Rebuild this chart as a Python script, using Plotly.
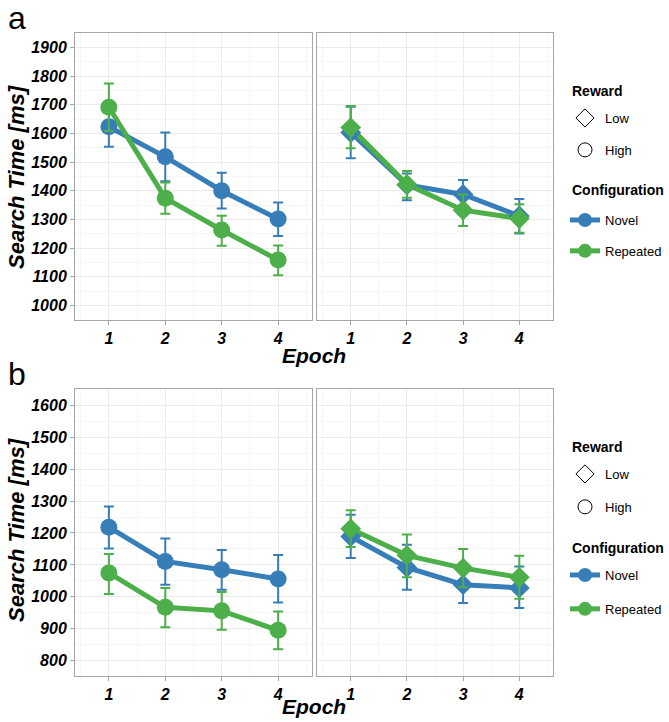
import plotly.graph_objects as go

epochs = [1, 2, 3, 4]
epoch_labels = ["1", "2", "3", "4"]

# Panel a, High reward (circles, left facet)
a_high_novel = [1623, 1518, 1400, 1301]
a_high_novel_hi = [1695, 1603, 1463, 1359]
a_high_novel_lo = [1553, 1433, 1338, 1242]
a_high_rep = [1691, 1374, 1263, 1158]
a_high_rep_hi = [1774, 1429, 1313, 1209]
a_high_rep_lo = [1608, 1320, 1208, 1105]
# Panel a, Low reward (diamonds, right facet)
a_low_novel = [1603, 1420, 1387, 1312]
a_low_novel_hi = [1693, 1460, 1437, 1371]
a_low_novel_lo = [1513, 1367, 1337, 1251]
a_low_rep = [1620, 1422, 1332, 1303]
a_low_rep_hi = [1695, 1469, 1387, 1353]
a_low_rep_lo = [1548, 1375, 1277, 1253]
# Panel b, High reward
b_high_novel = [1218, 1111, 1085, 1056]
b_high_novel_hi = [1283, 1183, 1147, 1131]
b_high_novel_lo = [1151, 1038, 1022, 982]
b_high_rep = [1075, 967, 956, 895]
b_high_rep_hi = [1134, 1028, 1015, 954]
b_high_rep_lo = [1009, 905, 897, 836]
# Panel b, Low reward
b_low_novel = [1189, 1092, 1038, 1028]
b_low_novel_hi = [1257, 1163, 1095, 1095]
b_low_novel_lo = [1122, 1022, 981, 965]
b_low_rep = [1213, 1130, 1090, 1061]
b_low_rep_hi = [1271, 1195, 1150, 1129]
b_low_rep_lo = [1156, 1061, 1030, 994]

a_yticks = [1000, 1100, 1200, 1300, 1400, 1500, 1600, 1700, 1800, 1900]
b_yticks = [800, 900, 1000, 1100, 1200, 1300, 1400, 1500, 1600]

BLUE = "#377EB8"
GREEN = "#4DAF4A"
FONT = "Liberation Sans"
W, H = 669, 722

fig = go.Figure()

def add_line(xa, ya, y, color):
    fig.add_trace(go.Scatter(x=epochs, y=y, mode="lines", line=dict(color=color, width=5),
                             xaxis=xa, yaxis=ya, showlegend=False, hoverinfo="skip"))

def add_points(xa, ya, y, hi, lo, color, symbol, size):
    fig.add_trace(go.Scatter(
        x=epochs, y=y, mode="markers",
        marker=dict(color=color, symbol=symbol, size=size, line=dict(width=0)),
        error_y=dict(type="data", symmetric=False,
                     array=[h - v for h, v in zip(hi, y)],
                     arrayminus=[v - l for l, v in zip(lo, y)],
                     color=color, thickness=2, width=5),
        xaxis=xa, yaxis=ya, showlegend=False))

panels = [
    ("x", "y", a_high_novel, a_high_novel_hi, a_high_novel_lo, a_high_rep, a_high_rep_hi, a_high_rep_lo, "circle", 17),
    ("x2", "y2", a_low_novel, a_low_novel_hi, a_low_novel_lo, a_low_rep, a_low_rep_hi, a_low_rep_lo, "diamond", 16),
    ("x3", "y3", b_high_novel, b_high_novel_hi, b_high_novel_lo, b_high_rep, b_high_rep_hi, b_high_rep_lo, "circle", 17),
    ("x4", "y4", b_low_novel, b_low_novel_hi, b_low_novel_lo, b_low_rep, b_low_rep_hi, b_low_rep_lo, "diamond", 16),
]
for xa, ya, nv, nh, nl, rv, rh, rl, sym, sz in panels:
    add_line(xa, ya, nv, BLUE)
    add_line(xa, ya, rv, GREEN)
for xa, ya, nv, nh, nl, rv, rh, rl, sym, sz in panels:
    add_points(xa, ya, nv, nh, nl, BLUE, sym, sz)
    add_points(xa, ya, rv, rh, rl, GREEN, sym, sz)

# legend entries
for leg in ["legend", "legend3"]:
    fig.add_trace(go.Scatter(x=[None], y=[None], mode="markers", name="Low",
                             marker=dict(symbol="diamond-open", color="black", size=14, line=dict(width=1)),
                             legend=leg, legendgroup=leg + "low"))
    fig.add_trace(go.Scatter(x=[None], y=[None], mode="markers", name="High",
                             marker=dict(symbol="circle-open", color="black", size=14, line=dict(width=1)),
                             legend=leg, legendgroup=leg + "high"))
for leg in ["legend2", "legend4"]:
    fig.add_trace(go.Scatter(x=[None], y=[None], mode="lines+markers", name="Novel",
                             line=dict(color=BLUE, width=5), marker=dict(color=BLUE, size=14),
                             legend=leg, legendgroup=leg + "nov"))
    fig.add_trace(go.Scatter(x=[None], y=[None], mode="lines+markers", name="Repeated",
                             line=dict(color=GREEN, width=5), marker=dict(color=GREEN, size=14),
                             legend=leg, legendgroup=leg + "rep"))

tickfont = dict(family=FONT, size=16, weight="bold", style="italic", color="black")
grid = "#ebebeb"
minor_grid = "#f6f6f6"
border = "#a6a6a6"

def xax(domain):
    return dict(domain=domain, range=[0.4, 4.6], tickvals=epochs, ticktext=epoch_labels,
                showgrid=True, gridcolor=grid, gridwidth=1,
                minor=dict(tickvals=[0.5, 1.5, 2.5, 3.5, 4.5], showgrid=True, gridcolor=minor_grid, ticks=""),
                ticks="outside", ticklen=4, tickcolor=border, tickfont=tickfont,
                showline=True, mirror=True, linecolor=border, linewidth=1, zeroline=False)

def yax(domain, rng, ticks, show, anchor):
    d = dict(domain=domain, range=rng, tickvals=ticks, showgrid=True, gridcolor=grid, gridwidth=1,
             minor=dict(dtick=50, showgrid=True, gridcolor=minor_grid, ticks=""),
             showline=True, mirror=True, linecolor=border, linewidth=1, zeroline=False,
             anchor=anchor, tickfont=tickfont)
    if show:
        d.update(ticks="outside", ticklen=4, tickcolor=border, showticklabels=True)
    else:
        d.update(ticks="", showticklabels=False)
    return d

xl = [75 / W, 312 / W]
xr = [317 / W, 553 / W]
ya_dom = [1 - 320 / H, 1 - 33 / H]
yb_dom = [1 - 676 / H, 1 - 389 / H]
ra = [949, 1950]
rb = [752, 1651]

fig.update_layout(
    width=W, height=H, margin=dict(l=0, r=0, t=0, b=0),
    paper_bgcolor="white", plot_bgcolor="white",
    xaxis=dict(xax(xl), anchor="y"),
    xaxis2=dict(xax(xr), anchor="y2"),
    xaxis3=dict(xax(xl), anchor="y3"),
    xaxis4=dict(xax(xr), anchor="y4"),
    yaxis=yax(ya_dom, ra, a_yticks, True, "x"),
    yaxis2=yax(ya_dom, ra, a_yticks, False, "x2"),
    yaxis3=yax(yb_dom, rb, b_yticks, True, "x3"),
    yaxis4=yax(yb_dom, rb, b_yticks, False, "x4"),
    showlegend=True,
)

legfont = dict(family=FONT, size=13, color="black")
def legend(ytop, gap):
    return dict(x=565 / W, y=1 - ytop / H, xanchor="left", yanchor="top",
                font=legfont, bgcolor="rgba(0,0,0,0)", tracegroupgap=gap, traceorder="grouped",
                itemsizing="trace", itemwidth=30)

fig.update_layout(legend=legend(103, 12), legend2=legend(205, 11),
                  legend3=legend(459, 13), legend4=legend(560, 14))

ann_font = dict(family=FONT, size=21, weight="bold", style="italic", color="black")
title_font = dict(family=FONT, size=14, weight="bold", color="black")
annotations = [
    dict(text="a", x=6 / W, y=1 - 18 / H, xref="paper", yref="paper", xanchor="left", yanchor="middle",
         showarrow=False, font=dict(family=FONT, size=32, color="black")),
    dict(text="b", x=6 / W, y=1 - 374 / H, xref="paper", yref="paper", xanchor="left", yanchor="middle",
         showarrow=False, font=dict(family=FONT, size=32, color="black")),
    dict(text="Search Time [ms]", x=16 / W, y=1 - 177 / H, xref="paper", yref="paper", textangle=-90,
         xanchor="center", yanchor="middle", showarrow=False,
         font=dict(family=FONT, size=22, weight="bold", style="italic", color="black")),
    dict(text="Search Time [ms]", x=16 / W, y=1 - 530 / H, xref="paper", yref="paper", textangle=-90,
         xanchor="center", yanchor="middle", showarrow=False,
         font=dict(family=FONT, size=22, weight="bold", style="italic", color="black")),
    dict(text="Epoch", x=314 / W, y=1 - 355 / H, xref="paper", yref="paper",
         xanchor="center", yanchor="middle", showarrow=False, font=ann_font),
    dict(text="Epoch", x=314 / W, y=1 - 706 / H, xref="paper", yref="paper",
         xanchor="center", yanchor="middle", showarrow=False, font=ann_font),
    dict(text="Reward", x=570 / W, y=1 - 91 / H, xref="paper", yref="paper",
         xanchor="left", yanchor="middle", showarrow=False, font=title_font),
    dict(text="Configuration", x=570 / W, y=1 - 190 / H, xref="paper", yref="paper",
         xanchor="left", yanchor="middle", showarrow=False, font=title_font),
    dict(text="Reward", x=570 / W, y=1 - 447 / H, xref="paper", yref="paper",
         xanchor="left", yanchor="middle", showarrow=False, font=title_font),
    dict(text="Configuration", x=570 / W, y=1 - 548 / H, xref="paper", yref="paper",
         xanchor="left", yanchor="middle", showarrow=False, font=title_font),
]
fig.update_layout(annotations=annotations)

fig.write_html("out.html", config={"displayModeBar": False},
               post_script="document.body.style.margin='0';document.body.style.padding='0';")
